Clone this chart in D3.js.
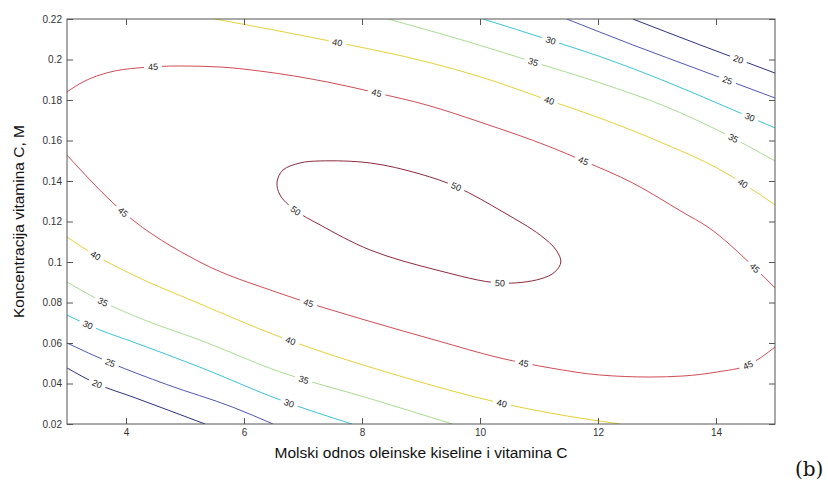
<!DOCTYPE html>
<html>
<head>
<meta charset="utf-8">
<script src="https://cdn.jsdelivr.net/npm/d3@7"></script>
<style>
  body { margin: 0; background: #fff; }
  svg { display: block; }
</style>
</head>
<body>
<div id="chart"></div>
<script>
// axis ticks
const xTicks = [4, 6, 8, 10, 12, 14];
const yTicks = [0.02, 0.04, 0.06, 0.08, 0.1, 0.12, 0.14, 0.16, 0.18, 0.2, 0.22];

// contour levels and their colours (jet-like)
const levels = [20, 25, 30, 35, 40, 45, 50];
const levelColors = ["#2c3182", "#5057b6", "#3cc3d8", "#a9dc93", "#e6d03a", "#cf4d55", "#8c2b3c"];

// contour lines, [x, y] in data units
const c20Upper = [[12.59, 0.22], [13.73, 0.2072], [14.37, 0.2002], [15, 0.1933]];
const c20Lower = [[3, 0.0477], [3.51, 0.0398], [4.12, 0.0333], [5.34, 0.02]];
const c25Upper = [[11.47, 0.22], [12.59, 0.2072], [13.73, 0.1948], [15, 0.181]];
const c25Lower = [[3, 0.06], [3.73, 0.0503], [4.69, 0.0395], [5.81, 0.0283], [6.49, 0.02]];
const c30Upper = [[10.05, 0.22], [11.19, 0.2095], [12.03, 0.2015], [13.17, 0.1889], [14.29, 0.1751], [15, 0.1662]];
const c30Lower = [[3, 0.0738], [3.56, 0.0664], [4.12, 0.0605], [5.25, 0.0481], [6.61, 0.0319], [7.83, 0.02]];
const c35Upper = [[8.44, 0.22], [9.83, 0.2085], [10.9, 0.1988], [12.03, 0.1885], [13.17, 0.1765], [14.02, 0.1652], [15, 0.1499]];
const c35Lower = [[3, 0.0901], [3.61, 0.0803], [4.3, 0.0715], [5.25, 0.0615], [6.61, 0.0457], [8.14, 0.0325], [9.53, 0.02]];
const c40Upper = [[5.51, 0.22], [7.41, 0.2094], [9.1, 0.1988], [10.0, 0.1915], [11.15, 0.18], [12.03, 0.1711], [13.17, 0.1578], [14.02, 0.1464], [15, 0.1282]];
const c40Lower = [[3, 0.1123], [3.47, 0.1035], [4.12, 0.0936], [5.2, 0.08], [6.61, 0.063], [8.64, 0.0437], [10.37, 0.0302], [11.19, 0.0254], [12.37, 0.02]];
const c45Upper = [[3, 0.184], [3.27, 0.1889], [3.73, 0.1938], [4.19, 0.1958], [4.92, 0.1968], [5.59, 0.1963], [6.27, 0.1943], [7.41, 0.1889], [8.25, 0.1835], [9.1, 0.1775], [10.0, 0.1691], [11.19, 0.1568], [11.75, 0.15], [12.59, 0.139], [13.44, 0.1245], [13.86, 0.1173], [14.66, 0.097], [15, 0.0872]];
const c45Lower = [[3, 0.1528], [3.95, 0.1247], [5.25, 0.1], [6.61, 0.0845], [8.14, 0.0706], [9.27, 0.0612], [10.34, 0.0526], [11.19, 0.0477], [12.03, 0.0442], [12.88, 0.0432], [13.44, 0.0437], [14.02, 0.0457], [14.54, 0.0491], [15, 0.058]];
const c50Loop = [[6.56, 0.1395], [6.66, 0.1454], [6.95, 0.1489], [7.29, 0.1499], [8.14, 0.1489], [8.98, 0.1435], [9.61, 0.137], [10.39, 0.1247], [11.02, 0.1133], [11.29, 0.1059], [11.37, 0.1], [11.27, 0.0951], [11.02, 0.0916], [10.34, 0.0896], [9.27, 0.096], [8.14, 0.1059], [7.29, 0.1183], [6.86, 0.1257], [6.61, 0.1331]];

// inline label positions (approximate, snapped onto the line)
const l20Upper = [[14.37, 0.1995]];
const l20Lower = [[3.51, 0.0398]];
const l25Upper = [[14.19, 0.1894]];
const l25Lower = [[3.73, 0.0501]];
const l30Upper = [[11.19, 0.2091], [14.56, 0.1706]];
const l30Lower = [[3.34, 0.0684], [6.75, 0.0289]];
const l35Upper = [[10.9, 0.1985], [14.29, 0.161]];
const l35Lower = [[3.61, 0.0803], [7.0, 0.0407]];
const l40Upper = [[7.58, 0.2086], [11.15, 0.178], [14.44, 0.138]];
const l40Lower = [[3.47, 0.1025], [6.78, 0.06], [10.37, 0.0299]];
const l45Upper = [[4.46, 0.1953], [8.25, 0.1835], [11.75, 0.1495], [14.66, 0.097]];
const l45Lower = [[3.95, 0.1247], [7.08, 0.0788], [10.73, 0.0491], [14.54, 0.0491]];
const l50Loop = [[9.61, 0.138], [6.86, 0.1247], [10.34, 0.0896]];

const contours = [
  { level: 20, pts: c20Upper, labels: l20Upper },
  { level: 20, pts: c20Lower, labels: l20Lower },
  { level: 25, pts: c25Upper, labels: l25Upper },
  { level: 25, pts: c25Lower, labels: l25Lower },
  { level: 30, pts: c30Upper, labels: l30Upper },
  { level: 30, pts: c30Lower, labels: l30Lower },
  { level: 35, pts: c35Upper, labels: l35Upper },
  { level: 35, pts: c35Lower, labels: l35Lower },
  { level: 40, pts: c40Upper, labels: l40Upper },
  { level: 40, pts: c40Lower, labels: l40Lower },
  { level: 45, pts: c45Upper, labels: l45Upper },
  { level: 45, pts: c45Lower, labels: l45Lower },
  { level: 50, pts: c50Loop, labels: l50Loop, closed: true }
];

const width = 828, height = 484;
const margin = { top: 19, right: 53, bottom: 60, left: 67 };
const innerWidth = width - margin.left - margin.right;
const innerHeight = height - margin.top - margin.bottom;
const axisColor = "#555";
const textFont = "'Liberation Sans', Arial, sans-serif";

const svg = d3.select("#chart").append("svg")
  .attr("width", width)
  .attr("height", height);

const g = svg.append("g")
  .attr("transform", `translate(${margin.left}, ${margin.top})`);

const x = d3.scaleLinear().domain([3, 15]).range([0, innerWidth]);
const y = d3.scaleLinear().domain([0.02, 0.22]).range([innerHeight, 0]);

const color = d3.scaleOrdinal().domain(levels).range(levelColors);

g.append("clipPath").attr("id", "plotClip")
  .append("rect").attr("width", innerWidth).attr("height", innerHeight);

const plot = g.append("g").attr("clip-path", "url(#plotClip)");
const labelLayer = g.append("g"); // labels sit inside the box, no clipping needed

// contour lines
contours.forEach(c => {
  const line = d3.line()
    .x(d => x(d[0]))
    .y(d => y(d[1]))
    .curve(c.closed ? d3.curveCatmullRomClosed : d3.curveMonotoneX);

  const path = plot.append("path")
    .datum(c.pts)
    .attr("d", line)
    .attr("fill", "none")
    .attr("stroke", color(c.level))
    .attr("stroke-width", 1);

  // labels: snap to nearest point on the path, rotate along it
  const node = path.node();
  const total = node.getTotalLength();
  c.labels.forEach(l => {
    const tx = x(l[0]), ty = y(l[1]);
    let best = 0, bestD = Infinity;
    for (let s = 0; s <= total; s += 0.5) {
      const p = node.getPointAtLength(s);
      const dd = (p.x - tx) ** 2 + (p.y - ty) ** 2;
      if (dd < bestD) { bestD = dd; best = s; }
    }
    const p = node.getPointAtLength(best);
    const p0 = node.getPointAtLength(Math.max(0, best - 4));
    const p1 = node.getPointAtLength(Math.min(total, best + 4));
    let ang = Math.atan2(p1.y - p0.y, p1.x - p0.x) * 180 / Math.PI;
    if (ang > 90) ang -= 180;
    if (ang < -90) ang += 180;

    const lg = labelLayer.append("g")
      .attr("transform", `translate(${p.x}, ${p.y}) rotate(${ang})`);
    lg.append("rect")
      .attr("x", -9).attr("y", -4)
      .attr("width", 18).attr("height", 8)
      .attr("fill", "#fff");
    lg.append("text")
      .attr("text-anchor", "middle")
      .attr("dy", "0.35em")
      .style("font-family", textFont)
      .style("font-size", "9px")
      .attr("fill", "#222")
      .text(c.level);
  });
});

// box and inward ticks on all sides
g.append("rect")
  .attr("width", innerWidth).attr("height", innerHeight)
  .attr("fill", "none").attr("stroke", axisColor).attr("stroke-width", 1);

const xAxis = g.append("g")
  .attr("transform", `translate(0, ${innerHeight})`)
  .call(d3.axisBottom(x).tickValues(xTicks).tickSizeInner(-6).tickSizeOuter(0).tickPadding(5).tickFormat(d3.format("d")));
const xTop = g.append("g")
  .call(d3.axisTop(x).tickValues(xTicks).tickSizeInner(-6).tickSizeOuter(0));
const yAxis = g.append("g")
  .call(d3.axisLeft(y).tickValues(yTicks).tickSizeInner(-6).tickSizeOuter(0).tickPadding(5).tickFormat(d => d3.format("")(+d.toFixed(2))));
const yRight = g.append("g")
  .attr("transform", `translate(${innerWidth}, 0)`)
  .call(d3.axisRight(y).tickValues(yTicks).tickSizeInner(-6).tickSizeOuter(0));

// mirrored axes carry only tick marks
xTop.selectAll("text").remove();
yRight.selectAll("text").remove();

[xAxis, xTop, yAxis, yRight].forEach(a => {
  a.select(".domain").remove();
  a.selectAll("line").attr("stroke", axisColor);
  a.selectAll("text")
    .style("font-family", textFont)
    .style("font-size", "10px")
    .attr("fill", "#333");
});

// axis titles
svg.append("text")
  .attr("x", margin.left + innerWidth / 2)
  .attr("y", 458)
  .attr("text-anchor", "middle")
  .style("font-family", textFont)
  .style("font-size", "15.5px")
  .attr("fill", "#111")
  .text("Molski odnos oleinske kiseline i vitamina C");

svg.append("text")
  .attr("transform", `translate(24, ${margin.top + innerHeight / 2}) rotate(-90)`)
  .attr("text-anchor", "middle")
  .style("font-family", textFont)
  .style("font-size", "15.5px")
  .attr("fill", "#111")
  .text("Koncentracija vitamina C, M");

// panel tag
svg.append("text")
  .attr("x", 795)
  .attr("y", 476)
  .style("font-family", "'DejaVu Serif', 'Liberation Serif', serif")
  .style("font-size", "20px")
  .attr("fill", "#111")
  .text("(b)");
</script>
</body>
</html>
